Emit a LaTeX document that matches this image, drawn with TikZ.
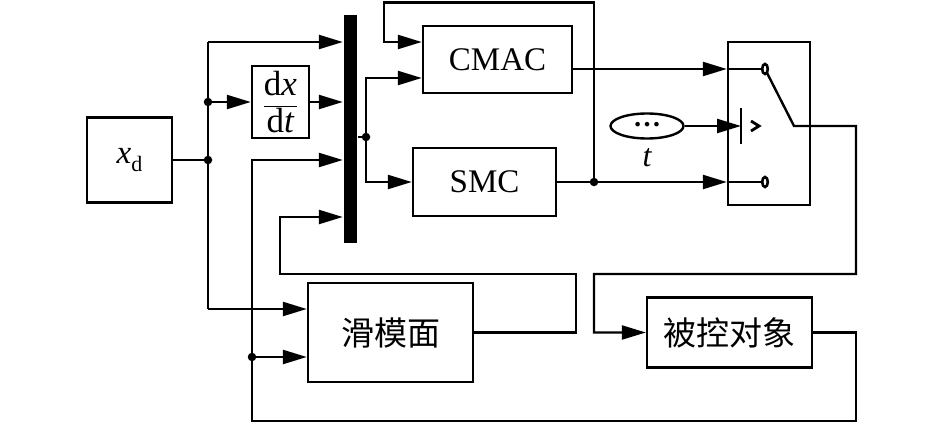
\documentclass[tikz,border=0pt]{standalone}
\usepackage{fontspec}
\setmainfont{Liberation Serif}
\newfontfamily\cjk{Noto Sans CJK SC}
\usetikzlibrary{arrows.meta,shapes.geometric}
\begin{document}
\begin{tikzpicture}[x=1pt,y=-1pt,
  line width=2.4pt,
  blk/.style={draw,rectangle,inner sep=0pt,line width=2.4pt},
  arr/.style={-{Triangle[length=24pt,width=14pt]}},
  jdot/.style={circle,fill,inner sep=0pt,minimum size=8.5pt},
  txt/.style={font=\fontsize{33}{38}\selectfont},
  cjktxt/.style={font=\cjk\fontsize{33}{38}\selectfont},
]
\useasboundingbox (0,0) rectangle (945,425);

% blocks
\node[blk,minimum width=85pt,minimum height=85pt,txt] (xd) at (129.5,160)
  {\textit{x}\raisebox{-0.25em}{\fontsize{22}{22}\selectfont d}};
\node[blk,minimum width=57pt,minimum height=72pt,font=\fontsize{35}{38}\selectfont] (der) at (280.5,102)
  {$\displaystyle\frac{\mbox{d\textit{x}}}{\mbox{d\textit{t}}}$};
\node[fill,inner sep=0pt,minimum width=13pt,minimum height=228pt] (mux) at (350.5,129) {};
\node[blk,minimum width=149pt,minimum height=67pt,txt] (cmac) at (497.5,59.5) {CMAC};
\node[blk,minimum width=143pt,minimum height=68pt,txt] (smc) at (484.5,182) {SMC};
\node[blk,minimum width=82pt,minimum height=163pt] (sw) at (769,123.5) {};
\node[draw,ellipse,inner sep=0pt,minimum width=73pt,minimum height=25pt,font=\fontsize{28}{28}\selectfont\bfseries] (clk) at (647,126) {\raisebox{0.12em}{…}};
\node[font=\fontsize{32}{34}\selectfont\itshape] (tl) at (647,158) {t};
\node[blk,minimum width=165pt,minimum height=99pt,cjktxt] (sm) at (390.5,332.5) {滑模面};
\node[blk,minimum width=165pt,minimum height=70pt,cjktxt] (plant) at (729.5,332.5) {被控对象};

% coordinates
\coordinate (J1) at (208,160);
\coordinate (J2) at (208,102);
\coordinate (T1) at (208,42);
\coordinate (B1) at (208,309);
\coordinate (F1) at (856,332.5);
\coordinate (F2) at (856,421);
\coordinate (F3) at (252,421);
\coordinate (F4) at (252,160);
\coordinate (J3) at (252,357);
\coordinate (S1) at (576,332.5);
\coordinate (S2) at (576,274);
\coordinate (S3) at (280,274);
\coordinate (S4) at (280,217);
\coordinate (J4) at (366,137);
\coordinate (M1) at (366,78);
\coordinate (M2) at (366,182);
\coordinate (C1) at (765,69);
\coordinate (C2) at (765,182);
\coordinate (J5) at (594,182);
\coordinate (U1) at (594,2.5);
\coordinate (U2) at (384,2.5);
\coordinate (U3) at (384,42);
\coordinate (TH) at (741,126);
\coordinate (P1) at (794,126);
\coordinate (O1) at (856,126);
\coordinate (O2) at (856,274);
\coordinate (O3) at (594,274);
\coordinate (O4) at (594,332.5);

% connectors
\draw (xd.east) -- (J1);
\draw (T1) -- (B1);
\draw[arr] (T1) -- (T1 -| mux.west);
\draw[arr] (J2) -- (der.west);
\draw[arr] (der.east) -- (der.east -| mux.west);
\draw[arr] (B1) -- (B1 -| sm.west);
\draw[arr] (plant.east) -- (F1) -- (F2) -- (F3) -- (F4) -- (F4 -| mux.west);
\draw[arr] (J3) -- (J3 -| sm.west);
\draw[arr] (sm.east) -- (S1) -- (S2) -- (S3) -- (S4) -- (S4 -| mux.west);
\draw (J4 -| mux.east) -- (J4);
\draw[arr] (J4) -- (M1) -- (M1 -| cmac.west);
\draw[arr] (J4) -- (M2) -- (M2 -| smc.west);
\draw[arr] (cmac.east |- C1) -- (C1 -| sw.west);
\draw (C1 -| sw.west) -- (C1);
\draw (smc.east) -- (J5);
\draw[arr] (J5) -- (C2 -| sw.west);
\draw (C2 -| sw.west) -- (C2);
\draw[arr] (J5) -- (U1) -- (U2) -- (U3) -- (U3 -| cmac.west);
\draw[arr] (clk.east) -- (TH);
\draw ([yshift=-18pt]TH) -- ([yshift=18pt]TH);
\draw[line width=2.8pt] ([xshift=10pt,yshift=-5pt]TH) -- ([xshift=18pt]TH) -- ([xshift=10pt,yshift=5pt]TH);
\draw[arr] (C1) -- (P1) -- (O1) -- (O2) -- (O3) -- (O4) -- (plant.west);

% contacts
\draw[line width=2.6pt,fill=white] (C1) ellipse (2.8 and 5);
\draw[line width=2.6pt,fill=white] (C2) ellipse (2.8 and 5);

% junction dots
\foreach \j in {J1,J2,J3,J4,J5} \node[jdot] at (\j) {};
\end{tikzpicture}
\end{document}
